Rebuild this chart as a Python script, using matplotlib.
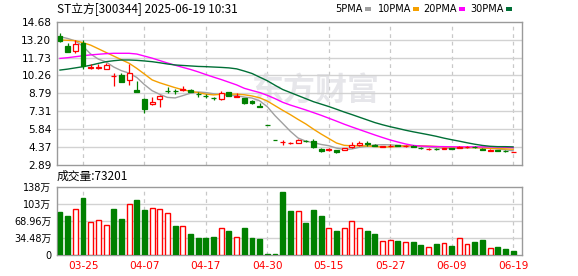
import matplotlib
matplotlib.use('Agg')
import matplotlib.pyplot as plt
import numpy as np
from matplotlib.patches import Rectangle

plt.rcParams['font.family'] = ['DejaVu Sans', 'Noto Sans CJK SC']

# ---------------- data ----------------
dates = ['03-20', '03-21', '03-24', '03-25', '03-26', '03-27', '03-28', '03-31',
         '04-01', '04-02', '04-03', '04-07', '04-08', '04-09', '04-10', '04-11',
         '04-14', '04-15', '04-16', '04-17', '04-18', '04-21', '04-22', '04-23',
         '04-24', '04-25', '04-28', '04-30', '05-06', '05-07', '05-08', '05-09',
         '05-12', '05-13', '05-14', '05-15', '05-16', '05-19', '05-20', '05-21',
         '05-22', '05-23', '05-26', '05-27', '05-28', '05-29', '05-30', '06-03',
         '06-04', '06-05', '06-06', '06-09', '06-10', '06-11', '06-12', '06-13',
         '06-16', '06-17', '06-18', '06-19']

opens = [13.50, 12.68, 12.30, 12.95, 10.83, 10.90, 10.82, 10.20, 10.29, 9.86,
         9.06, 8.32, 7.88, 8.29, 9.00, 9.00, 9.05, 9.08, 8.74, 8.60,
         8.42, 8.29, 8.89, 8.52, 8.38, 8.18, 7.78, 6.20, 4.95, 4.76,
         4.68, 4.74, 4.86, 4.84, 4.23, 4.11, 4.15, 4.12, 4.40, 4.57,
         4.68, 4.52, 4.38, 4.42, 4.50, 4.44, 4.46, 4.32, 4.18, 4.24,
         4.22, 4.28, 4.30, 4.34, 4.40, 4.24, 4.07, 4.10, 4.08, 3.94]
highs = [13.72, 12.95, 13.17, 13.20, 11.20, 11.20, 11.28, 10.50, 10.43, 11.17,
         9.80, 8.43, 8.51, 8.65, 9.33, 9.14, 9.42, 9.18, 8.90, 8.75,
         8.52, 9.00, 8.92, 8.78, 8.40, 8.20, 8.02, 6.20, 4.95, 4.92,
         4.81, 5.03, 4.93, 5.03, 4.30, 4.32, 4.16, 4.32, 4.75, 4.85,
         4.85, 4.60, 4.46, 4.60, 4.55, 4.52, 4.50, 4.36, 4.26, 4.28,
         4.30, 4.32, 4.48, 4.42, 4.44, 4.28, 4.18, 4.14, 4.10, 3.98]
lows = [13.05, 12.15, 12.13, 10.75, 10.80, 10.76, 10.76, 9.40, 9.70, 9.44,
        8.92, 7.19, 7.85, 7.69, 8.79, 8.76, 9.00, 8.88, 8.47, 8.43,
        8.25, 8.27, 8.55, 8.50, 7.92, 7.92, 7.68, 6.16, 4.92, 4.56,
        4.59, 4.72, 4.76, 4.29, 3.98, 4.08, 3.90, 4.10, 4.32, 4.45,
        4.45, 4.42, 4.35, 4.40, 4.42, 4.40, 4.38, 4.22, 4.15, 4.16,
        4.18, 4.22, 4.26, 4.30, 4.32, 4.12, 4.02, 4.04, 4.00, 3.92]
closes = [13.12, 12.21, 12.84, 11.00, 10.95, 10.98, 11.09, 10.23, 9.75, 10.43,
          8.93, 7.50, 8.07, 8.57, 8.96, 8.96, 9.12, 8.92, 8.70, 8.56,
          8.37, 8.84, 8.60, 8.60, 8.00, 7.95, 7.70, 6.16, 4.93, 4.79,
          4.71, 4.97, 4.84, 4.34, 4.05, 4.20, 3.97, 4.30, 4.55, 4.73,
          4.64, 4.48, 4.42, 4.48, 4.46, 4.49, 4.40, 4.26, 4.22, 4.20,
          4.27, 4.25, 4.40, 4.38, 4.35, 4.14, 4.10, 4.06, 4.03, 3.96]

ma5 = [13.45, 13.30, 13.10, 12.65, 12.02, 11.60, 11.37, 10.95, 10.65, 10.45,
       10.09, 9.50, 9.00, 8.70, 8.45, 8.41, 8.60, 8.80, 8.90, 8.85,
       8.75, 8.68, 8.62, 8.59, 8.48, 8.40, 8.17, 7.68, 6.95, 6.31,
       5.66, 5.11, 4.85, 4.73, 4.58, 4.48, 4.28, 4.17, 4.21, 4.35,
       4.44, 4.54, 4.56, 4.55, 4.50, 4.47, 4.45, 4.42, 4.37, 4.31,
       4.27, 4.24, 4.27, 4.30, 4.33, 4.30, 4.27, 4.21, 4.14, 4.06]
ma10 = [13.17, 13.15, 13.12, 12.95, 12.75, 12.45, 12.15, 11.85, 11.55, 11.26,
        10.84, 10.37, 9.89, 9.65, 9.45, 9.25, 9.08, 8.95, 8.85, 8.72,
        8.66, 8.71, 8.72, 8.72, 8.67, 8.57, 8.42, 8.15, 7.77, 7.39,
        7.03, 6.64, 6.27, 5.84, 5.44, 5.07, 4.70, 4.51, 4.47, 4.47,
        4.46, 4.41, 4.37, 4.38, 4.42, 4.45, 4.48, 4.47, 4.45, 4.41,
        4.37, 4.35, 4.34, 4.33, 4.32, 4.29, 4.26, 4.24, 4.22, 4.19]
ma20 = [11.66, 11.72, 11.80, 11.88, 11.95, 12.00, 12.05, 12.08, 12.08, 12.08,
        12.02, 11.85, 11.68, 11.48, 11.28, 11.10, 10.92, 10.75, 10.55, 10.33,
        10.12, 9.92, 9.70, 9.48, 9.20, 9.02, 8.85, 8.62, 8.35, 8.05,
        7.82, 7.62, 7.42, 7.20, 6.98, 6.74, 6.50, 6.25, 6.02, 5.80,
        5.58, 5.36, 5.15, 4.95, 4.78, 4.62, 4.50, 4.45, 4.42, 4.41,
        4.40, 4.39, 4.38, 4.38, 4.38, 4.38, 4.38, 4.37, 4.35, 4.32]
ma30 = [10.70, 10.78, 10.88, 10.98, 11.10, 11.25, 11.39, 11.47, 11.53, 11.53,
        11.50, 11.45, 11.39, 11.30, 11.20, 11.12, 11.08, 11.04, 11.00, 10.98,
        10.95, 10.92, 10.88, 10.80, 10.62, 10.42, 10.12, 9.82, 9.45, 9.10,
        8.85, 8.60, 8.35, 8.10, 7.90, 7.70, 7.48, 7.25, 7.04, 6.82,
        6.60, 6.38, 6.20, 6.04, 5.90, 5.75, 5.62, 5.50, 5.38, 5.25,
        5.10, 4.97, 4.85, 4.72, 4.60, 4.50, 4.43, 4.40, 4.40, 4.38]

volume = [85.6, 77.6, 93.0, 115.5, 67.0, 71.0, 61.0, 93.5, 71.7, 103.0,
          111.5, 89.6, 95.0, 93.0, 85.0, 57.7, 59.0, 41.8, 33.8, 33.8,
          35.8, 55.0, 47.8, 37.0, 53.8, 33.8, 31.8, 2.0, 2.0, 127.4,
          87.6, 89.0, 63.7, 91.6, 77.6, 55.0, 47.8, 55.0, 69.0, 55.0,
          47.8, 41.8, 27.3, 29.3, 27.9, 25.3, 25.9, 19.9, 15.3, 21.9,
          23.3, 17.9, 35.2, 21.3, 25.9, 29.9, 13.3, 15.9, 12.0, 7.3]
vol_up = [0, 0, 1, 0, 1, 1, 1, 0, 0, 1,
          0, 0, 1, 1, 1, 0, 1, 0, 0, 0,
          0, 1, 0, 1, 0, 0, 0, 0, 0, 0,
          0, 1, 0, 0, 0, 1, 0, 1, 1, 1,
          0, 0, 1, 1, 0, 1, 0, 0, 1, 0,
          1, 0, 1, 1, 0, 0, 1, 0, 0, 0]

price_ticks = [2.89, 4.37, 5.84, 7.31, 8.79, 10.26, 11.73, 13.20, 14.68]
vol_ticks = [0, 34.48, 68.96, 103.44, 137.92]
vol_tick_labels = ['0', '34.48万', '68.96万', '103万', '138万']
date_labels = ['03-25', '04-07', '04-17', '04-30', '05-15', '05-27', '06-09', '06-19']
title = 'ST立方[300344] 2025-06-19 10:31'
last_volume = 73201
ma_names = ['5PMA', '10PMA', '20PMA', '30PMA']

# ---------------- style ----------------
RED = '#ff0000'
GREEN = '#008000'
MA_COLORS = ['#a0a0a0', '#f5a000', '#ff00ff', '#006f36']
GRID = '#d2d2d2'
SPINE = '#9a9a9a'
W, H = 578, 276
TICK_FS = 7.6

fig = plt.figure(figsize=(W / 100, H / 100), dpi=100)
ax = fig.add_axes([57 / W, 1 - 165 / H, 465 / W, (165 - 21.7) / H])
axv = fig.add_axes([57 / W, 1 - 255 / H, 465 / W, (255 - 186.5) / H])

n = len(closes)
x = np.arange(n)
xlim = (-0.39, 60.16)
tick_idx = [dates.index(d) for d in date_labels]

for a in (ax, axv):
    a.set_xlim(*xlim)
    for s in a.spines.values():
        s.set_color(SPINE)
        s.set_linewidth(1.0)
    for t in tick_idx:
        a.axvline(t, color='#c8c8c8', lw=0.9, ls=(0, (3, 3)), zorder=0)
    a.tick_params(length=0)

# watermark
ax.text((315 - 57) / 465, (165 - 92) / (165 - 21.7), '东方财富', transform=ax.transAxes,
        fontsize=23, fontweight='bold', color='#e6e6ea', ha='center', va='center',
        family=['Noto Sans CJK SC'], zorder=0)

# price axis
ax.set_ylim(price_ticks[0], price_ticks[-1])
ax.set_yticks(price_ticks)
ax.set_yticklabels(['%.2f' % v for v in price_ticks], fontsize=TICK_FS)
ax.tick_params(axis='y', pad=4)
ax.set_xticks([])
for v in price_ticks[1:-1]:
    ax.axhline(v, color=GRID, lw=1.0, zorder=0)

# MA lines
for vals, col in zip([ma5, ma10, ma20, ma30], MA_COLORS):
    ax.plot(x, vals, color=col, lw=1.0, zorder=3)

# candles
bw = 0.64
for i in range(n):
    o, h, l, c = opens[i], highs[i], lows[i], closes[i]
    up = c >= o
    lo, hi = min(o, c), max(o, c)
    if hi - lo < 0.05:
        m = (hi + lo) / 2
        lo, hi = m - 0.025, m + 0.025
    if up:
        ax.add_patch(Rectangle((i - bw / 2, lo), bw, hi - lo, facecolor='white',
                               edgecolor=RED, lw=0.9, zorder=4))
        if h > hi:
            ax.vlines(i, hi, h, color=RED, lw=0.9, zorder=4)
        if l < lo:
            ax.vlines(i, l, lo, color=RED, lw=0.9, zorder=4)
    else:
        ax.vlines(i, l, h, color=GREEN, lw=0.9, zorder=4)
        ax.add_patch(Rectangle((i - bw / 2, lo), bw, hi - lo, facecolor=GREEN,
                               edgecolor=GREEN, lw=0.9, zorder=4))

# volume
axv.set_ylim(0, vol_ticks[-1])
axv.set_yticks(vol_ticks)
axv.set_yticklabels(vol_tick_labels, fontsize=7.0)
axv.tick_params(axis='y', pad=4)
for v in vol_ticks[1:-1]:
    axv.axhline(v, color=GRID, lw=1.0, zorder=0)
for i in range(n):
    if vol_up[i]:
        axv.bar(i, volume[i], width=bw, facecolor='white', edgecolor=RED, lw=1.0, zorder=3)
    else:
        axv.bar(i, volume[i], width=bw, facecolor=GREEN, edgecolor=GREEN, lw=1.0, zorder=3)
axv.set_xticks(tick_idx)
axv.set_xticklabels(date_labels, fontsize=TICK_FS, color=RED)
axv.tick_params(axis='x', pad=4)

# titles / legend
fig.text(57 / W, 1 - 9 / H, title, fontsize=8.5, va='center', ha='left',
         family=['Noto Sans CJK SC', 'DejaVu Sans'])
fig.text(57 / W, 1 - 176 / H, '成交量:%d' % last_volume, fontsize=8.5, va='center', ha='left',
         family=['Noto Sans CJK SC', 'DejaVu Sans'])

rect_x = [365, 413, 459, 506]
for name, rx, col in zip(ma_names, rect_x, MA_COLORS):
    fig.text((rx - 2) / W, 1 - 9 / H, name, fontsize=7, va='center', ha='right')
    fig.add_artist(Rectangle((rx / W, 1 - 10.5 / H), 6 / W, 3 / H, transform=fig.transFigure,
                             facecolor=col, edgecolor='none'))

fig.savefig('out.png', dpi=100)
